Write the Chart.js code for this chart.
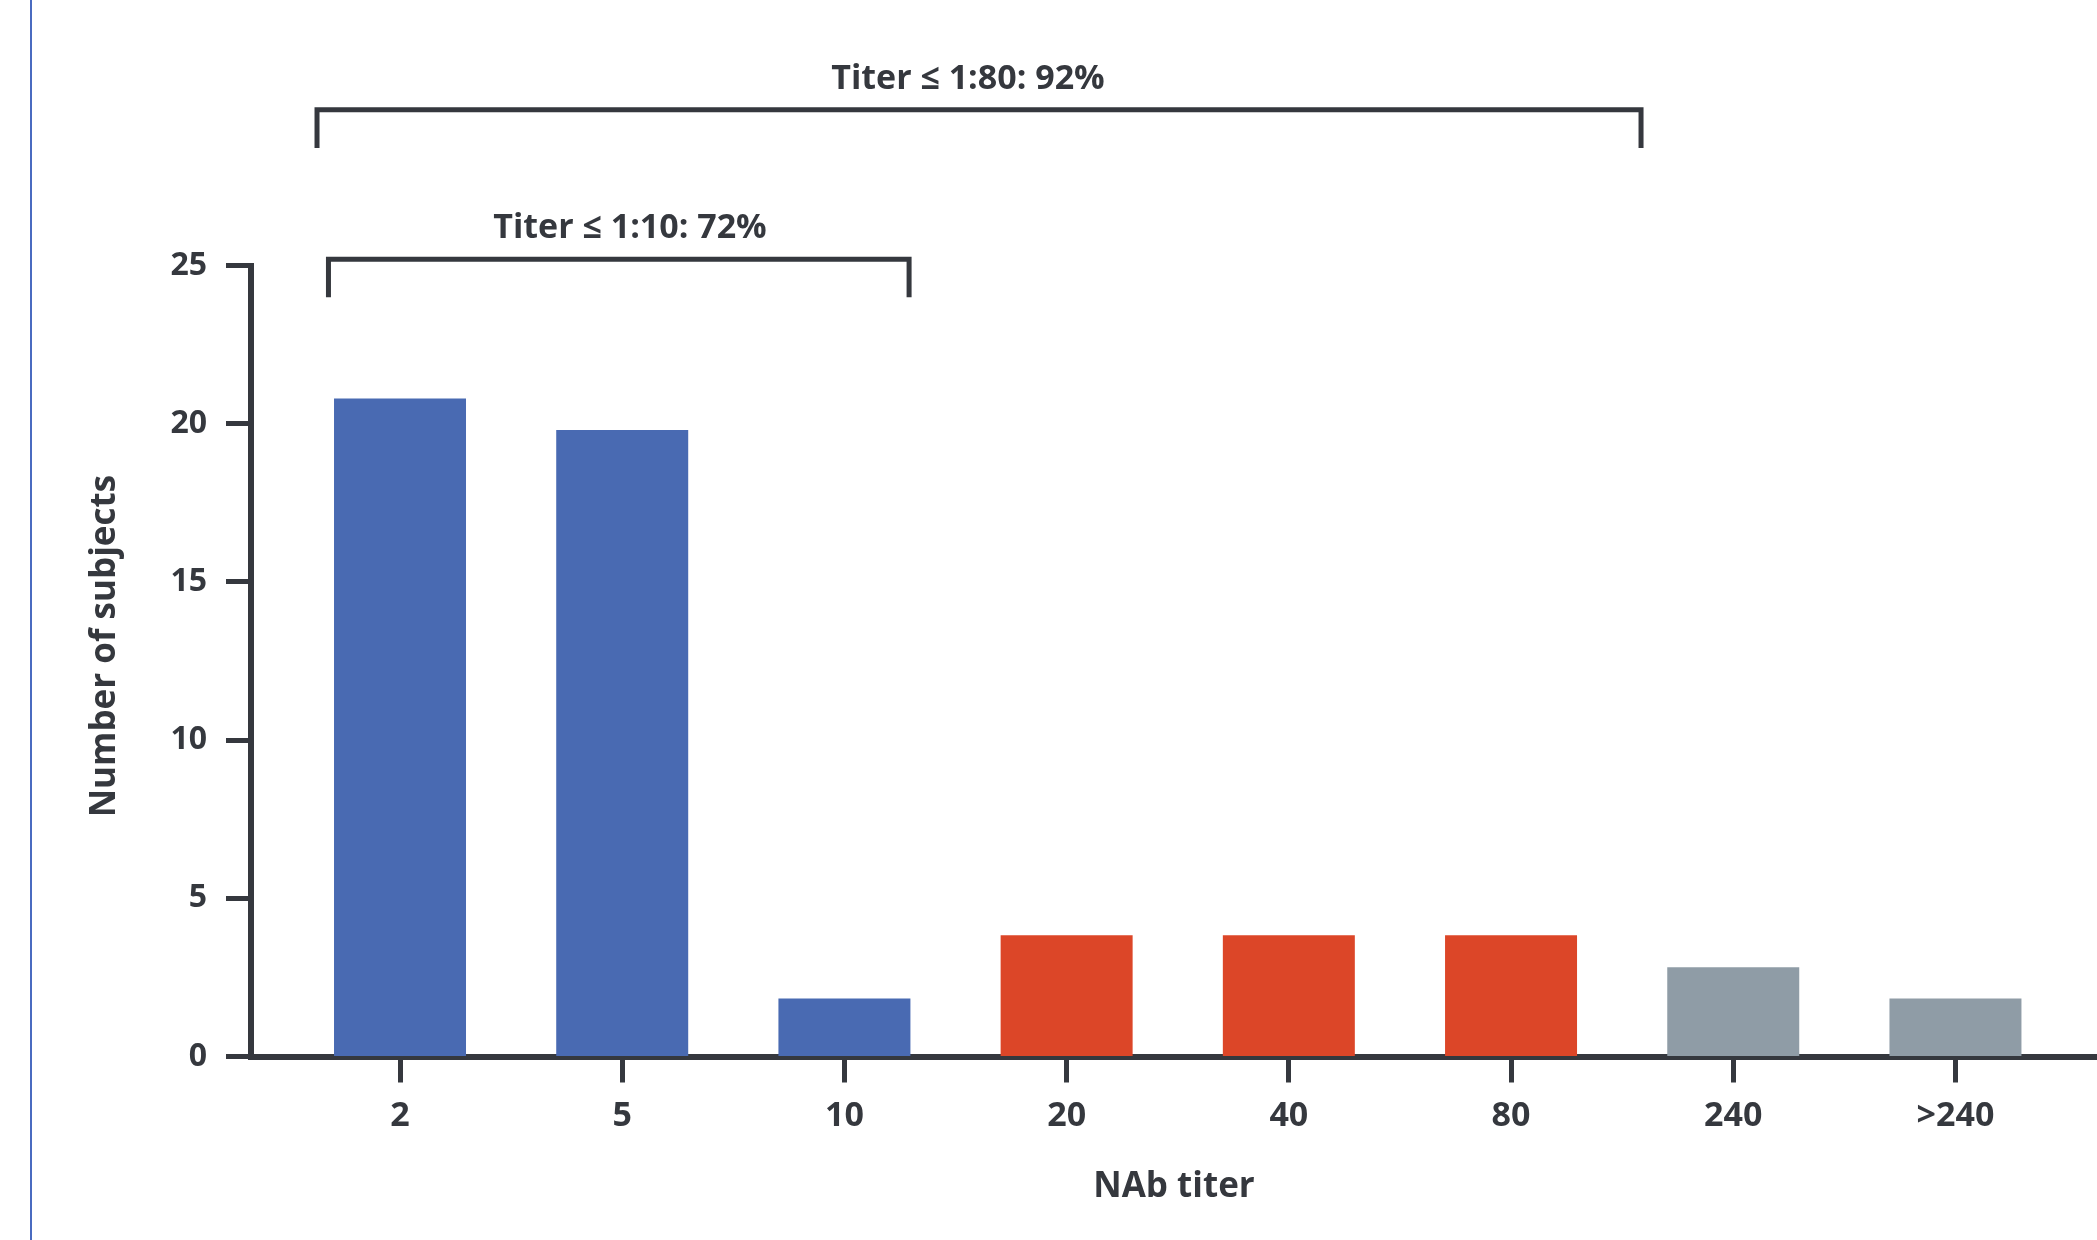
<!DOCTYPE html>
<html>
<head>
<meta charset="utf-8">
<script src="https://cdn.jsdelivr.net/npm/chart.js@4.4.1/dist/chart.umd.min.js"></script>
<style>
  html, body { margin: 0; padding: 0; background: #ffffff; }
  #wrap { width: 2097px; height: 1240px; position: relative; }
</style>
</head>
<body>
<div id="wrap"><canvas id="c" width="2097" height="1240"></canvas></div>
<script>
// ---- data ----
const titerLabels   = ['2', '5', '10', '20', '40', '80', '240', '>240'];
const subjectCounts = [20.8, 19.8, 1.83, 3.83, 3.83, 3.83, 2.82, 1.83];
const titerGroups   = ['low', 'low', 'low', 'mid', 'mid', 'mid', 'high', 'high'];
const yTickValues   = [0, 5, 10, 15, 20, 25];
const bracketTexts  = ['Titer \u2264 1:10: 72%', 'Titer \u2264 1:80: 92%'];
const xAxisTitle    = 'NAb titer';
const yAxisTitle    = 'Number of subjects';

// ---- styling ----
const groupColors = { low: '#496AB2', mid: '#DC4628', high: '#8F9CA6' };
const ink = '#35383E';
const FONT = "'Open Sans', 'Liberation Sans', sans-serif";

// bracket annotation layout (in axis units)
const bracketSpecs = [
  { text: bracketTexts[0], from: -0.322, to: 2.291, level: 25.2,  foot: 24.0,  labelAt: 1.035 },
  { text: bracketTexts[1], from: -0.3735, to: 5.585, level: 29.92, foot: 28.71, labelAt: 2.556 }
];
// y-axis title placement (axis-unit centre of the title along the axis)
const yTitleCenterValue = 12.97;

const points = subjectCounts.map((v, i) => ({ x: i, y: v }));

const decorPlugin = {
  id: 'decor',
  beforeDraw(chart) {
    const ctx = chart.ctx;
    ctx.save();
    ctx.fillStyle = '#ffffff';
    ctx.fillRect(0, 0, chart.width, chart.height);
    ctx.strokeStyle = '#4A6BC0';
    ctx.lineWidth = 2;
    ctx.beginPath();
    ctx.moveTo(31, 0);
    ctx.lineTo(31, chart.height);
    ctx.stroke();
    ctx.restore();
  },
  afterDraw(chart) {
    const ctx = chart.ctx;
    const xs = chart.scales.x, ys = chart.scales.y;
    ctx.save();
    ctx.strokeStyle = ink;
    ctx.fillStyle = ink;
    ctx.lineWidth = 5;
    ctx.lineJoin = 'miter';
    ctx.lineCap = 'butt';
    bracketSpecs.forEach(b => {
      const x1 = xs.getPixelForValue(b.from), x2 = xs.getPixelForValue(b.to);
      const yl = ys.getPixelForValue(b.level), yf = ys.getPixelForValue(b.foot);
      ctx.beginPath();
      ctx.moveTo(x1, yf);
      ctx.lineTo(x1, yl);
      ctx.lineTo(x2, yl);
      ctx.lineTo(x2, yf);
      ctx.stroke();
      ctx.font = 'bold 34px ' + FONT;
      ctx.textAlign = 'center';
      ctx.textBaseline = 'alphabetic';
      ctx.fillText(b.text, xs.getPixelForValue(b.labelAt), yl - 21);
    });
    // y-axis title
    ctx.translate(ys.left + 105, ys.getPixelForValue(yTitleCenterValue));
    ctx.rotate(-Math.PI / 2);
    ctx.font = 'bold 35px ' + FONT;
    ctx.textAlign = 'center';
    ctx.textBaseline = 'middle';
    ctx.fillText(yAxisTitle, 0, 0);
    ctx.restore();
  }
};

new Chart(document.getElementById('c'), {
  type: 'bar',
  data: {
    datasets: [{
      data: points,
      backgroundColor: titerGroups.map(g => groupColors[g]),
      borderWidth: 0,
      barPercentage: 0.594,
      categoryPercentage: 1.0
    }]
  },
  options: {
    responsive: false,
    animation: false,
    devicePixelRatio: 1,
    layout: { padding: { top: 265.5, left: 0, right: 0, bottom: 0 } },
    plugins: { legend: { display: false }, tooltip: { enabled: false } },
    scales: {
      x: {
        type: 'linear',
        min: -0.6706,
        max: 7.637,
        offset: false,
        z: 1,
        afterFit(scale) { scale.height = 183.5; },
        afterBuildTicks(scale) { scale.ticks = titerLabels.map((_, i) => ({ value: i })); },
        grid: { display: true, offset: false, drawOnChartArea: false, drawTicks: true, tickLength: 26, tickWidth: 5, tickColor: ink },
        border: { display: true, width: 6, color: ink },
        ticks: {
          autoSkip: false,
          maxRotation: 0,
          padding: 13,
          color: ink,
          font: { family: FONT, size: 34, weight: 'bold' },
          callback: (v) => titerLabels[v] !== undefined ? titerLabels[v] : ''
        },
        title: {
          display: true,
          text: xAxisTitle,
          color: ink,
          font: { family: FONT, size: 35, weight: 'bold' },
          padding: { top: 0, bottom: 32 }
        }
      },
      y: {
        min: 0,
        max: 25,
        z: 1,
        afterFit(scale) { scale.width = 251; },
        afterBuildTicks(scale) { scale.ticks = yTickValues.map(v => ({ value: v })); },
        grid: { display: true, drawOnChartArea: false, drawTicks: true, tickLength: 25, tickWidth: 5, tickColor: ink },
        border: { display: true, width: 6, color: ink },
        ticks: {
          padding: 19,
          color: ink,
          font: { family: FONT, size: 32, weight: 'bold' }
        },
        title: { display: false, text: yAxisTitle }
      }
    }
  },
  plugins: [decorPlugin]
});
</script>
</body>
</html>
